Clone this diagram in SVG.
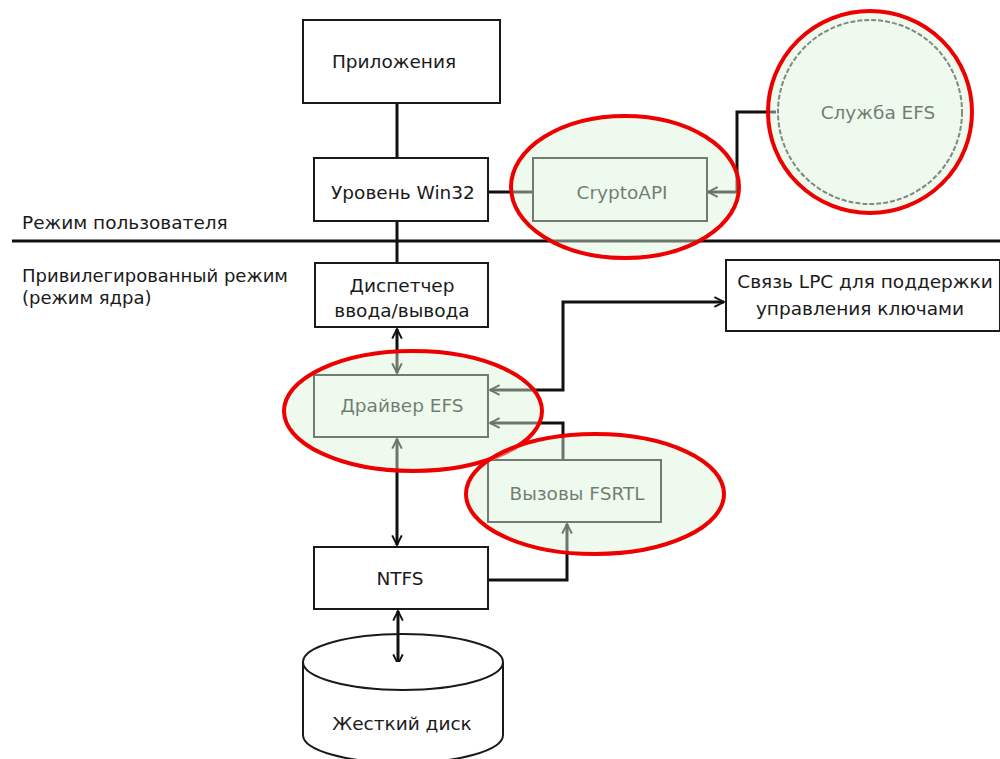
<svg xmlns="http://www.w3.org/2000/svg" width="1000" height="759" viewBox="0 0 1000 759">
<style>
.box{fill:#ffffff;stroke:#1a1a1a;stroke-width:2}
.gbox{fill:#ffffff;stroke:#1a1a1a;stroke-width:2}
.t{font-family:"DejaVu Sans",sans-serif;font-size:18.5px;fill:#1a1a1a;text-anchor:middle}
.tl{font-family:"DejaVu Sans",sans-serif;font-size:18.5px;fill:#1a1a1a}
.c{fill:none;stroke:#111;stroke-width:3}
.hl{fill:#d9f4d9;fill-opacity:0.45;stroke:#ee0000;stroke-width:4}
</style>
<defs>
<marker id="ah" viewBox="0 0 10 10" refX="9" refY="5" markerWidth="4" markerHeight="4" orient="auto-start-reverse" markerUnits="strokeWidth">
<path d="M1,1 L9,5 L1,9" fill="none" stroke="#111" stroke-width="1.6"/>
</marker>
</defs>
<rect width="1000" height="759" fill="#ffffff"/>

<line x1="12" y1="241" x2="1000" y2="241" stroke="#111" stroke-width="3"/>
<text class="tl" x="22" y="229">Режим пользователя</text>
<text class="tl" x="22" y="282" style="font-size:18px">Привилегированный режим</text>
<text class="tl" x="22" y="304" style="font-size:18px">(режим ядра)</text>

<g id="connectors">
<line class="c" x1="397" y1="103" x2="397" y2="158"/>
<line class="c" x1="488" y1="192" x2="533" y2="192"/>
<line class="c" x1="397" y1="221" x2="397" y2="263"/>
<path class="c" d="M776,112 H737 V192 H708" marker-end="url(#ah)"/>
<path class="c" d="M397,329 V373" marker-start="url(#ah)" marker-end="url(#ah)"/>
<path class="c" d="M490,390 H563 V302 H724" marker-start="url(#ah)" marker-end="url(#ah)"/>
<path class="c" d="M563,460 V423 H490" marker-end="url(#ah)"/>
<path class="c" d="M397,439 V545" marker-start="url(#ah)" marker-end="url(#ah)"/>
<path class="c" d="M488,580 H567 V524" marker-end="url(#ah)"/>
<path class="c" d="M398,611 V664" marker-start="url(#ah)" marker-end="url(#ah)"/>
</g>

<g id="apps"><rect class="box" x="303" y="20" width="197" height="83"/><text class="t" x="394" y="68">Приложения</text></g>
<g id="win32"><rect class="box" x="314" y="158" width="174" height="63"/><text class="t" x="403" y="199">Уровень Win32</text></g>
<g id="cryptoapi"><rect class="gbox" x="533" y="158" width="174" height="63"/><text class="t" x="622" y="199">CryptoAPI</text></g>
<g id="efs-service"><circle cx="870" cy="112" r="92" fill="#ffffff" stroke="#333" stroke-width="2" stroke-dasharray="5,2"/><text class="t" x="878" y="119">Служба EFS</text></g>
<g id="iomgr"><rect class="box" x="315" y="263" width="173" height="64"/><text class="t" x="402" y="292">Диспетчер</text><text class="t" x="402" y="317">ввода/вывода</text></g>
<g id="lpc"><rect class="box" x="726" y="260" width="274" height="71"/><text class="t" x="865" y="288">Связь LPC для поддержки</text><text class="t" x="860" y="315">управления ключами</text></g>
<g id="efs-driver"><rect class="gbox" x="314" y="375" width="174" height="62"/><text class="t" x="402" y="412">Драйвер EFS</text></g>
<g id="fsrtl"><rect class="gbox" x="488" y="460" width="173" height="62"/><text class="t" x="577" y="500">Вызовы FSRTL</text></g>
<g id="ntfs"><rect class="box" x="314" y="547" width="174" height="62"/><text class="t" x="400" y="585">NTFS</text></g>
<g id="disk">
<path d="M303,662 V735 A100,28 0 0 0 503,735 V662" fill="#ffffff" stroke="#1a1a1a" stroke-width="2"/>
<ellipse cx="403" cy="662" rx="100" ry="28" fill="none" stroke="#1a1a1a" stroke-width="2"/>
<text class="t" x="402" y="730">Жесткий диск</text>
</g>

<g id="highlights">
<ellipse class="hl" cx="625" cy="187" rx="114" ry="71"/>
<ellipse class="hl" cx="870" cy="112" rx="102" ry="101"/>
<ellipse class="hl" cx="413" cy="411" rx="129" ry="60"/>
<ellipse class="hl" cx="595" cy="494" rx="129" ry="60"/>
</g>
</svg>
